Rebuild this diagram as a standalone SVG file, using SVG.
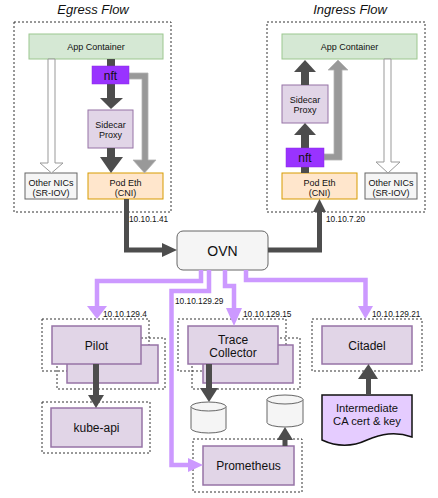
<svg xmlns="http://www.w3.org/2000/svg" width="438" height="498" viewBox="0 0 438 498">
<defs>
<style>
text{font-family:"Liberation Sans",Arial,sans-serif;fill:#111;text-anchor:middle}
.title{font-size:13px;font-style:italic}
.s9{font-size:9px}
.s12{font-size:12px}
.doc{font-size:11.2px}
.ip{font-size:8.3px;text-anchor:start}
.frame{fill:none;stroke:#333;stroke-width:1;stroke-dasharray:2,2}
.app{fill:#d5e8d4;stroke:#9cc78f;stroke-width:1}
.pod{fill:#ffe6cc;stroke:#d79b00;stroke-width:1}
.nic{fill:#f5f5f5;stroke:#666;stroke-width:1}
.pur{fill:#e1d5e7;stroke:#9673a6;stroke-width:1.5}
.nft{fill:#9933ff;stroke:#8a2be2;stroke-width:0.5}
.dark{fill:#4d4d4d;stroke:none}
.darkl{fill:none;stroke:#4d4d4d;stroke-width:5}
.grey{fill:#999;stroke:#b3b3b3;stroke-width:0.8}
.white{fill:#fff;stroke:#999;stroke-width:1}
.pl{fill:none;stroke:#cc99ff;stroke-width:4.5}
.ph{fill:#cc99ff;stroke:none}
.cyl{fill:#f5f5f5;stroke:#666;stroke-width:1}
</style>
</defs>
<rect width="438" height="498" fill="#fff"/>

<g id="egress-flow">
<text class="title" x="93" y="14">Egress Flow</text>
<rect class="frame" x="14" y="22" width="157" height="190"/>
</g>
<g id="ingress-flow">
<text class="title" x="350" y="14">Ingress Flow</text>
<rect class="frame" x="267" y="22" width="158" height="190"/>
</g>

<g id="eg-app"><rect class="app" x="29" y="34" width="134" height="25"/><text class="s9" x="96" y="50">App Container</text></g>
<g id="eg-sidecar"><rect class="pur" x="88" y="110" width="45" height="38" style="stroke-width:1"/><text class="s9" x="110.5" y="128">Sidecar</text><text class="s9" x="110.5" y="138">Proxy</text></g>
<g id="eg-nics"><rect class="nic" x="25" y="173" width="52" height="26"/><text class="s9" x="51" y="186">Other NICs</text><text class="s9" x="51" y="196">(SR-IOV)</text></g>
<g id="eg-pod"><rect class="pod" x="88" y="173" width="75" height="26"/><text class="s9" x="125.5" y="186">Pod Eth</text><text class="s9" x="125.5" y="196">(CNI)</text></g>

<g id="in-app"><rect class="app" x="282" y="34" width="135" height="25"/><text class="s9" x="349.5" y="50">App Container</text></g>
<g id="in-sidecar"><rect class="pur" x="282" y="85" width="46" height="38" style="stroke-width:1"/><text class="s9" x="305" y="103">Sidecar</text><text class="s9" x="305" y="113">Proxy</text></g>
<g id="in-pod"><rect class="pod" x="282" y="173" width="75" height="26"/><text class="s9" x="319.5" y="186">Pod Eth</text><text class="s9" x="319.5" y="196">(CNI)</text></g>
<g id="in-nics"><rect class="nic" x="365" y="173" width="52" height="26"/><text class="s9" x="391" y="186">Other NICs</text><text class="s9" x="391" y="196">(SR-IOV)</text></g>

<g id="ovn"><rect x="177" y="231" width="91" height="39" rx="6" fill="#f5f5f5" stroke="#666" stroke-width="1"/><text x="222.5" y="255.5" style="font-size:14px">OVN</text></g>

<g id="pilot">
<rect class="frame" x="57" y="338" width="108" height="51"/>
<rect class="frame" x="42" y="319" width="107" height="52"/>
<rect class="pur" x="67" y="345" width="91" height="38"/>
<rect class="pur" x="52" y="326" width="89" height="38"/>
<text class="s12" x="96.5" y="350">Pilot</text>
</g>
<g id="kube-api">
<rect class="frame" x="42" y="402" width="108" height="51"/>
<rect class="pur" x="51" y="408" width="91" height="39"/>
<text class="s12" x="96.5" y="432">kube-api</text>
</g>
<g id="trace-collector">
<rect class="frame" x="192" y="338" width="108" height="51"/>
<rect class="frame" x="178" y="319" width="108" height="52"/>
<rect class="pur" x="203" y="345" width="90" height="38"/>
<rect class="pur" x="188" y="326" width="90" height="38"/>
<text class="s12" x="233" y="344">Trace</text>
<text class="s12" x="233" y="357">Collector</text>
</g>
<g id="citadel">
<rect class="frame" x="312" y="319" width="110" height="52"/>
<rect class="pur" x="322" y="326" width="90" height="38"/>
<text class="s12" x="367" y="350">Citadel</text>
</g>
<g id="prometheus">
<rect class="frame" x="193" y="439" width="109" height="53"/>
<rect class="pur" x="203" y="446" width="91" height="39"/>
<text class="s12" x="248.5" y="470">Prometheus</text>
</g>
<g id="db1">
<path class="cyl" d="M191,406.5 A17.5,4.5 0 0 1 226,406.5 V428.5 A17.5,4.5 0 0 1 191,428.5 Z"/>
<path class="cyl" d="M191,406.5 A17.5,4.5 0 0 0 226,406.5" fill="none"/>
</g>
<g id="db2">
<path class="cyl" d="M267,399.5 A18,4.5 0 0 1 303,399.5 V422.5 A18,4.5 0 0 1 267,422.5 Z"/>
<path class="cyl" d="M267,399.5 A18,4.5 0 0 0 303,399.5" fill="none"/>
</g>
<g id="ca-cert">
<path d="M322,395 H412 V437 C395,431 381,434 367,440 C352,447 337,447 322,440 Z" fill="#e5ccff" stroke="#111" stroke-width="1.5"/>
<text class="doc" x="367" y="412">Intermediate</text>
<text class="doc" x="367" y="425">CA cert &amp; key</text>
</g>

<g id="connectors">
<!-- egress -->
<path class="white" d="M48,59 H55 V163 H63 L51.5,173 L40,163 H48 Z"/>
<rect class="dark" x="107" y="59" width="8" height="39"/>
<polygon class="dark" points="100,98 123,98 111,109"/>
<rect class="dark" x="107" y="148" width="8" height="9"/>
<polygon class="dark" points="100,157 123,157 111,173"/>
<path class="grey" d="M129,73 H148 V160 H156 L144.5,173 L133,160 H142 V79 H129 Z"/>
<!-- ingress -->
<rect class="dark" x="301" y="135" width="8" height="38"/>
<polygon class="dark" points="294,135 316,135 305,123"/>
<rect class="dark" x="301" y="72" width="8" height="13"/>
<polygon class="dark" points="294,72 316,72 305,60"/>
<path class="grey" d="M324,154 H334 V70 H328 L338,60 L348,70 H342 V160 H324 Z"/>
<path class="white" d="M384,59 H391 V162 H400 L388,173 L376,162 H384 Z"/>
<!-- OVN dark -->
<polyline class="darkl" points="126.5,199 126.5,250 163,250"/>
<polygon class="dark" points="162,243 177,250 162,257"/>
<polyline class="darkl" points="268,250 319.5,250 319.5,211"/>
<polygon class="dark" points="313,212 326,212 319.5,199"/>
<!-- purple -->
<polyline class="pl" points="201,270 201,281 97,281 97,307"/>
<polygon class="ph" points="87,306 107,306 97,319"/>
<polyline class="pl" points="209,270 209,291 171.5,291 171.5,465 189,465"/>
<polygon class="ph" points="188,458 203,465 188,472"/>
<polyline class="pl" points="225,270 225,286 234,286 234,309"/>
<polygon class="ph" points="226,308 242,308 234,326"/>
<polyline class="pl" points="246,270 246,280 365.5,280 365.5,307"/>
<polygon class="ph" points="358,306 373,306 365.5,319"/>
<!-- lower dark -->
<rect class="dark" x="93" y="364" width="6" height="32"/>
<polygon class="dark" points="88,395 104,395 96,408"/>
<rect class="dark" x="206" y="364" width="6" height="25"/>
<polygon class="dark" points="200,388 218,388 209,402"/>
<rect class="dark" x="282.5" y="439" width="5" height="7"/>
<polygon class="dark" points="277,440 293,440 285,427"/>
<rect class="dark" x="366" y="378" width="5" height="17"/>
<polygon class="dark" points="358,379 378,379 368.5,364"/>
<!-- labels -->
<text class="ip" x="129" y="222">10.10.1.41</text>
<text class="ip" x="326" y="222">10.10.7.20</text>
<text class="ip" x="103" y="317">10.10.129.4</text>
<text class="ip" x="175" y="304">10.10.129.29</text>
<text class="ip" x="243" y="317">10.10.129.15</text>
<text class="ip" x="372" y="317">10.10.129.21</text>
</g>

<g id="eg-nft"><rect class="nft" x="92" y="66" width="37" height="18"/><text class="s12" x="110.5" y="79.5">nft</text></g>
<g id="in-nft"><rect class="nft" x="286" y="148" width="38" height="19"/><text class="s12" x="305" y="162">nft</text></g>
</svg>
